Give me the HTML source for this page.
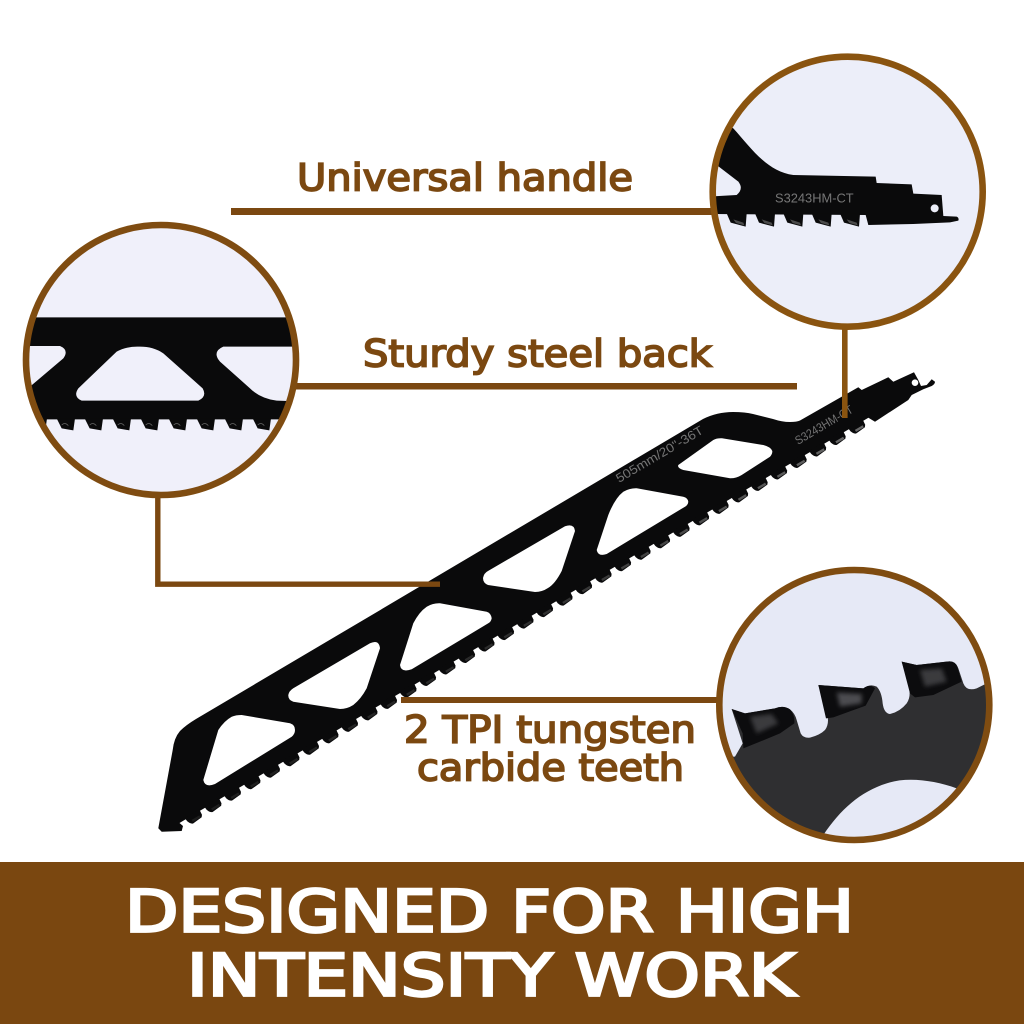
<!DOCTYPE html>
<html>
<head>
<meta charset="utf-8">
<style>
html,body{margin:0;padding:0;background:#fff;width:1024px;height:1024px;overflow:hidden}
svg{display:block}
text{font-family:"DejaVu Sans","Liberation Sans",sans-serif}
.lab{fill:#7b4811;stroke:#7b4811;stroke-width:1.7px;font-size:37px}
.ban{fill:#fff;stroke:#fff;stroke-width:2.8px;font-size:58px}
</style>
</head>
<body>
<svg width="1024" height="1024" viewBox="0 0 1024 1024" xmlns="http://www.w3.org/2000/svg">
<defs>
<clipPath id="c1"><circle cx="847.7" cy="191.7" r="135"/></clipPath>
<clipPath id="c2"><circle cx="161" cy="360" r="135"/></clipPath>
<clipPath id="c3"><circle cx="854.3" cy="705" r="135"/></clipPath>
<linearGradient id="hl" gradientUnits="userSpaceOnUse" x1="0" y1="0" x2="780" y2="0">
<stop offset="0" stop-color="#1c1c1c"/><stop offset=".5" stop-color="#2e2e2e"/><stop offset="1" stop-color="#6a6a6a"/>
</linearGradient>
<filter id="soft" x="-20%" y="-20%" width="140%" height="140%"><feGaussianBlur stdDeviation="6"/></filter>
<g id="t">
<path d="M-11 -5 L-10.5 -1 Q-9 3.5 -6.5 4 L4 3 L5.5 1 L6 -5 Z" fill="#0a0a0b"/>
</g>
<g id="t1">
<path d="M80 520 L92 548 L137 560 L140 520 Z" fill="#0a0a0b"/>
<path d="M100 538 L130 548 L133 556 L108 549 Z" fill="#4a4a4a"/>
</g>
<g id="t2">
<path d="M140 625 L155 655 L190 661 L195 625 Z" fill="#0a0a0b"/>
<path d="M155 645 Q165 635 175 647" fill="none" stroke="#666" stroke-width="2"/>
</g>
</defs>

<!-- connector lines under blade -->
<rect x="231" y="208" width="484" height="7" fill="#7b4811"/>
<rect x="295" y="383" width="502" height="6.5" fill="#7b4811"/>

<!-- main blade -->
<path fill="#0a0a0b" fill-rule="evenodd" d="M935 381.7 Q935 384 931.7 386 L923.3 389.3 L911.7 395 L908.3 400 L875 421.7 L868.4 417.7 L194.9 813.7 L179.5 823 L183 826 L181.7 831 L161.7 831.7 L158.3 828.3 L172.7 750 Q174 738 180 731 Q186 725 196 719 L703 419 Q717 412 733 412 Q745 412 753 414 L773 419 Q782 422 790 422 Q797 422 800 420.5 L858.3 387.3 L861.7 390 L888.3 377.3 L893.3 381.7 L914 372.3 L918.3 380 L921 386 L926.7 385 L931.7 379.3 Z
M678.3 465 L713.3 440 Q717 438 722 438.3 L763.3 445 Q771 447 772.3 451 Q772.5 454 770 456.7 L741.7 475 Q736 478.5 730 478.3 L683.3 470 Q677 468 678.3 465 Z
M596.7 550 L608.3 515 Q615 498 623.3 491.7 Q630 488 636.7 488.3 L683.3 496.7 Q688 498 688.3 501.7 Q688 505 685 506.7 L606.7 554 Q598 557 596.7 550 Z
M483 578 Q484 573 488 571 L565 526.3 Q574 523 575 531 L561.7 571 Q555 584 548 588 Q542 592 535 592 L488 585 Q483 583 483 578 Z
M400 665 L413.3 623.3 Q419 612 426.7 606.7 Q433 603 440 603.3 L486.7 611.7 Q491 613 491.7 618.3 Q491 622 488.3 623.3 L411.7 669.3 Q401 673 400 665 Z
M288.3 695 Q289 691 293.3 688.3 L370 643.3 Q379 639 380 648.3 L366.7 688.3 Q361 699 353.3 705 Q347 709 340 709 L293.3 701.7 Q288 700 288.3 695 Z
M203.3 780 L218.3 730 Q224 721 231.7 716.7 Q236 715 241.7 715 L290 723.3 Q295 725 295 730 Q295 734 291.7 736.7 L215 784 Q205 788 203.3 780 Z"/>
<circle cx="915" cy="382.7" r="3.3" fill="#fff"/>

<!-- blade teeth -->
<g transform="translate(196.7,816.7) rotate(-30.46)">
<use href="#t" x="0"/><use href="#t" x="22.63"/><use href="#t" x="45.26"/><use href="#t" x="67.89"/><use href="#t" x="90.52"/><use href="#t" x="113.15"/><use href="#t" x="135.78"/><use href="#t" x="158.41"/><use href="#t" x="181.04"/><use href="#t" x="203.67"/><use href="#t" x="226.3"/><use href="#t" x="248.93"/><use href="#t" x="271.56"/><use href="#t" x="294.19"/><use href="#t" x="316.82"/><use href="#t" x="339.45"/><use href="#t" x="362.08"/><use href="#t" x="384.71"/><use href="#t" x="407.34"/><use href="#t" x="429.97"/><use href="#t" x="452.6"/><use href="#t" x="475.23"/><use href="#t" x="497.86"/><use href="#t" x="520.49"/><use href="#t" x="543.12"/><use href="#t" x="565.75"/><use href="#t" x="588.38"/><use href="#t" x="611.01"/><use href="#t" x="633.64"/><use href="#t" x="656.27"/><use href="#t" x="678.9"/><use href="#t" x="701.53"/><use href="#t" x="724.16"/><use href="#t" x="746.79"/><use href="#t" x="769.42"/>
<line x1="-6" y1="1.4" x2="778" y2="1.4" stroke="url(#hl)" stroke-width="2.4" stroke-dasharray="9 13.63"/>
</g>

<!-- blade text -->
<text transform="translate(619,483) rotate(-30.5)" font-size="12.5" fill="#757575" textLength="99" lengthAdjust="spacingAndGlyphs" style="font-family:'Liberation Sans',sans-serif">505mm/20"-36T</text>
<text transform="translate(798,445) rotate(-30.5)" font-size="12" fill="#757575" textLength="65" lengthAdjust="spacingAndGlyphs" style="font-family:'Liberation Sans',sans-serif">S3243HM-CT</text>

<!-- connectors over blade -->
<rect x="842" y="325" width="5.6" height="93" fill="#8a5410"/>
<path d="M157.8 495 V584.2 H440" fill="none" stroke="#7b4811" stroke-width="5.4"/>
<rect x="401" y="697" width="318" height="6" fill="#7b4811"/>

<!-- circle 1 -->
<circle cx="847.7" cy="191.7" r="135" fill="#eceef9"/>
<g clip-path="url(#c1)"><g transform="translate(700,40) scale(.33333)">
<path fill="#0a0a0b" d="M0 200 L100 265 C150 320 200 395 280 405 L527 410 L530 429 L635 433 L640 461 L725 465 L730 528 L770 530 Q778 534 775 542 L750 547 L640 552 L505 555 L497 525 L20 522 Z"/>
<path fill="#eceef9" d="M50 375 L115 425 Q132 447 110 465 L20 470 L20 370 Z"/>
<circle cx="704" cy="505" r="12" fill="#eceef9"/>
<use href="#t1" x="0"/><use href="#t1" x="85"/><use href="#t1" x="170"/><use href="#t1" x="255"/><use href="#t1" x="340"/>
<text x="225" y="487" font-size="38" fill="#777" textLength="236" lengthAdjust="spacingAndGlyphs" style="font-family:'Liberation Sans',sans-serif">S3243HM-CT</text>
</g></g>
<circle cx="847.7" cy="191.7" r="135" fill="none" stroke="#8a5410" stroke-width="6.6"/>

<!-- circle 2 -->
<circle cx="161" cy="360" r="135" fill="#f0f0fa"/>
<g clip-path="url(#c2)"><g transform="translate(10,210) scale(.33333)">
<path fill="#0a0a0b" fill-rule="evenodd" d="M0 322 H900 V628 H0 Z
M0 408 L150 408 Q178 420 160 445 L60 530 L0 570 Z
M205 535 L320 425 Q350 408 390 410 Q430 410 460 430 L578 535 Q592 560 565 572 L215 572 Q188 560 205 535 Z
M640 410 L900 410 L900 575 L800 572 Q750 565 720 535 L630 455 Q605 425 640 410 Z"/>
<use href="#t2" x="-84"/><use href="#t2" x="0"/><use href="#t2" x="84"/><use href="#t2" x="168"/><use href="#t2" x="252"/><use href="#t2" x="336"/><use href="#t2" x="420"/><use href="#t2" x="504"/><use href="#t2" x="588"/><use href="#t2" x="672"/>
</g></g>
<circle cx="161" cy="360" r="135" fill="none" stroke="#7f4c11" stroke-width="6.6"/>
<rect x="297" y="383" width="30" height="6.5" fill="#7b4811"/>

<!-- circle 3 -->
<circle cx="854.3" cy="705" r="135" fill="#e6e9f6"/>
<g clip-path="url(#c3)"><g transform="translate(700,560) scale(.33333)">
<path fill="#2f2f31" d="M95 447 L135 460 L225 445 Q250 435 270 448 Q285 460 290 480 L302 520 Q310 535 330 533 Q360 525 375 510 Q390 490 380 455 L355 375 L490 385 Q510 370 530 380 Q545 395 548 430 Q552 460 570 462 Q600 455 620 430 Q635 410 625 370 L605 305 L650 315 L740 305 Q765 300 775 325 L790 370 Q800 395 830 385 L860 370 L900 365 V683 L770 685 C700 660 620 650 560 670 C480 695 420 750 370 825 L300 900 L0 900 L0 590 L105 590 L128 550 Z"/>
<path fill="#0c0c0e" d="M95 447 L135 460 L225 445 Q250 435 270 448 Q285 465 283 490 L240 520 L180 545 L130 565 L128 520 Z"/>
<path fill="#0c0c0e" d="M355 375 L490 385 Q510 370 525 385 L497 437 L400 472 L378 475 Z"/>
<path fill="#0c0c0e" d="M605 305 L650 315 L740 305 Q765 300 772 320 L785 365 L700 405 L645 412 L630 400 Z"/>
<g filter="url(#soft)">
<path fill="#3a3a3d" d="M150 470 L215 462 L235 490 L170 520 Z"/>
<path fill="#4c4c50" d="M410 398 L485 402 L485 430 L420 440 Z"/>
<path fill="#3a3a3d" d="M660 330 L725 325 L740 365 L675 380 Z"/>
</g>
</g></g>
<circle cx="854.3" cy="705" r="135" fill="none" stroke="#7f4c11" stroke-width="6.6"/>

<!-- labels -->
<text class="lab" x="297" y="190.7" textLength="336" lengthAdjust="spacingAndGlyphs">Universal handle</text>
<text class="lab" x="363" y="366.7" textLength="349" lengthAdjust="spacingAndGlyphs">Sturdy steel back</text>
<text class="lab" x="404" y="742.5" textLength="292" lengthAdjust="spacingAndGlyphs">2 TPI tungsten</text>
<text class="lab" x="417" y="780.5" textLength="267" lengthAdjust="spacingAndGlyphs">carbide teeth</text>

<!-- banner -->
<rect x="0" y="862" width="1024" height="162" fill="#7a4710"/>
<text class="ban" x="125" y="931.5" textLength="729" lengthAdjust="spacingAndGlyphs">DESIGNED FOR HIGH</text>
<text class="ban" x="187" y="995.5" textLength="608" lengthAdjust="spacingAndGlyphs">INTENSITY WORK</text>
</svg>
</body>
</html>
